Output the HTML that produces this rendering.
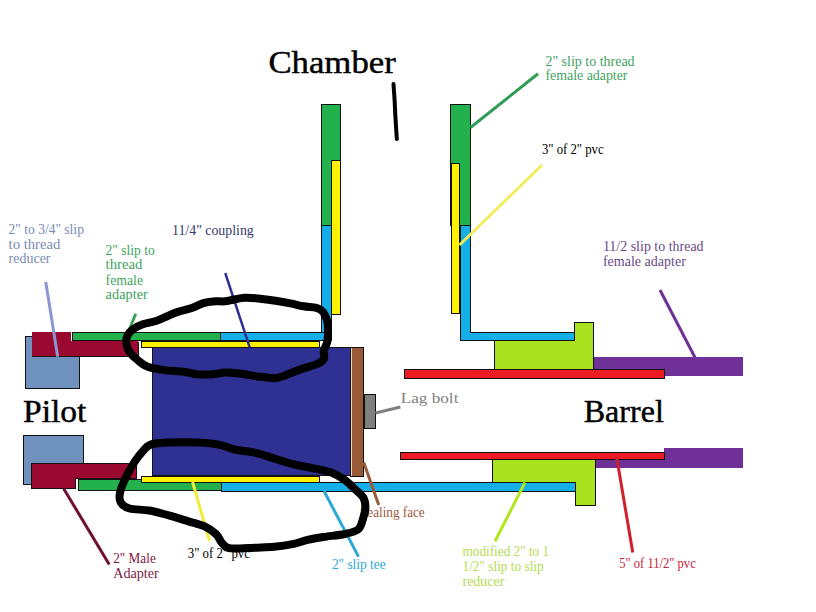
<!DOCTYPE html>
<html><head><meta charset="utf-8">
<style>
html,body{margin:0;padding:0;background:#fff;width:816px;height:612px;overflow:hidden}
svg{display:block}
text{font-family:"Liberation Serif",serif}
</style></head><body>
<svg width="816" height="612" viewBox="0 0 816 612">
<rect width="816" height="612" fill="#fff"/>
<g stroke="#111" stroke-width="1" shape-rendering="crispEdges">
<!-- left chamber pipe -->
<rect x="321.5" y="104.5" width="18.5" height="121" fill="#22b14c"/>
<rect x="321.5" y="225.5" width="9.5" height="115" fill="#14aee8"/>
<rect x="220.5" y="332.5" width="110.5" height="7.5" fill="#14aee8"/>
<rect x="331.5" y="160.5" width="9" height="154" fill="#fff200"/>
<!-- right chamber pipe -->
<rect x="450.5" y="104.5" width="20" height="121" fill="#22b14c"/>
<rect x="451.5" y="163.5" width="8.3" height="149.5" fill="#fff200"/>
<rect x="460.5" y="225.5" width="10.3" height="114.7" fill="#14aee8" stroke="none"/>
<path d="M460.5,225.5 V340.2 H575.4 V332.3 H470.8 V225.5" fill="none"/>
<rect x="470.8" y="332.3" width="104.6" height="7.9" fill="#14aee8" stroke="none"/>
<path d="M460.5,225.5 H470.8 V332.3 H575.4 V340.2 H460.5 Z" fill="#14aee8"/>
<!-- upper left pilot -->
<rect x="25.2" y="336.2" width="54.5" height="52.3" fill="#7092be"/>
<rect x="31.7" y="331.9" width="106.7" height="24.3" fill="#9a0a30" stroke="none"/>
<path d="M31.7,356.2 H138.4 V341.5" fill="none"/>
<rect x="70.5" y="332" width="2.5" height="9" fill="#fff" stroke="none"/>
<rect x="72.5" y="332.2" width="148" height="8" fill="#22b14c"/>
<rect x="141.4" y="341.2" width="178" height="6" fill="#fff200"/>
<!-- block -->
<rect x="152.3" y="347.3" width="198.2" height="128.3" fill="#2e3192"/>
<rect x="350.5" y="347.5" width="13" height="128.5" fill="#9a5a38"/>
<rect x="351" y="348" width="1.3" height="127.5" fill="#e8dcb0" stroke="none"/>
<rect x="364" y="394.3" width="11.7" height="34.2" fill="#7f7f7f"/>
<!-- lower left pilot -->
<rect x="23.5" y="435.5" width="60.3" height="49" fill="#7092be"/>
<path d="M31.7,463.4 H136.4 V478.3 H75.7 V488.3 H31.7 Z" fill="#9a0a30"/>
<rect x="75.7" y="478.8" width="3" height="10.5" fill="#fff" stroke="none"/>
<rect x="78.5" y="479.6" width="142.5" height="10.4" fill="#22b14c"/>
<rect x="221.2" y="482.5" width="354.2" height="9" fill="#14aee8"/>
<rect x="141" y="476" width="178.2" height="6.2" fill="#fff200"/>
<!-- upper barrel -->
<path d="M494.6,340.4 H574.4 V322.3 H593.8 V369.4 H494.6 Z" fill="#aae11e"/>
<rect x="593.8" y="357.3" width="149" height="19" fill="#6f3198" stroke="none"/>
<rect x="404.3" y="369.6" width="259.7" height="9" fill="#ed1c24"/>
<!-- lower barrel -->
<rect x="664" y="448" width="79" height="10.5" fill="#6f3198" stroke="none"/>
<rect x="596" y="458.2" width="147" height="10" fill="#6f3198" stroke="none"/>
<rect x="400.3" y="452.5" width="263.7" height="7" fill="#ed1c24"/>
<path d="M492.5,459.5 H595.8 V505 H575.3 V482.5 H492.5 Z" fill="#aae11e"/>
</g>

<g stroke-width="3" stroke-linecap="butt" fill="none">
<path d="M393.5,84 L394.6,100 L395.3,115 L396.8,139" stroke="#000" stroke-width="4" stroke-linecap="round" stroke-linejoin="round"/>
<line x1="470.5" y1="127.5" x2="538" y2="73.75" stroke="#2f9c55"/>
<line x1="542" y1="165" x2="459.5" y2="245" stroke="#f2ec5a"/>
<line x1="660" y1="290" x2="695" y2="357.5" stroke="#6f3198"/>
<line x1="375.5" y1="413" x2="400.4" y2="407" stroke="#7f7f7f"/>
<line x1="45.75" y1="282" x2="57.7" y2="356.7" stroke="#8c96d0"/>
<line x1="135.75" y1="313.75" x2="128.75" y2="331" stroke="#3aa35a"/>
<line x1="225.25" y1="273" x2="249.7" y2="347.3" stroke="#2e3192" stroke-width="2.5"/>
<line x1="63.75" y1="488.75" x2="109.25" y2="564.5" stroke="#6e1030"/>
<line x1="192.6" y1="482" x2="209.5" y2="541" stroke="#f2ec3a"/>
<line x1="324" y1="491" x2="358.5" y2="556.6" stroke="#2aa9d9"/>
<line x1="363.75" y1="462.5" x2="378.75" y2="505" stroke="#9c5a3c"/>
<line x1="525" y1="482.5" x2="495" y2="541.25" stroke="#b5e61d"/>
<line x1="616.5" y1="456.25" x2="632.75" y2="552.5" stroke="#d0202e"/>
</g>

<g>
<text x="268.4" y="73.3" font-size="32.5" fill="#000" stroke="#000" stroke-width="0.45" textLength="127.4" lengthAdjust="spacingAndGlyphs">Chamber</text>
<text x="23.0" y="421.9" font-size="32.5" fill="#000" stroke="#000" stroke-width="0.45" textLength="63.4" lengthAdjust="spacingAndGlyphs">Pilot</text>
<text x="583.7" y="421.6" font-size="32.5" fill="#000" stroke="#000" stroke-width="0.45" textLength="80.1" lengthAdjust="spacingAndGlyphs">Barrel</text>
<text x="8.6" y="233.75" font-size="14" fill="#7a8cb4" textLength="75.3" lengthAdjust="spacingAndGlyphs">2&quot; to 3/4&quot; slip</text>
<text x="8.6" y="248.7" font-size="14" fill="#7a8cb4" textLength="51.8" lengthAdjust="spacingAndGlyphs">to thread</text>
<text x="8.6" y="263.4" font-size="14" fill="#7a8cb4" textLength="41.9" lengthAdjust="spacingAndGlyphs">reducer</text>
<text x="105.6" y="254.9" font-size="14" fill="#3ea45e" textLength="49.1" lengthAdjust="spacingAndGlyphs">2&quot; slip to</text>
<text x="105.6" y="269.4" font-size="14" fill="#3ea45e" textLength="36.9" lengthAdjust="spacingAndGlyphs">thread</text>
<text x="105.6" y="284.6" font-size="14" fill="#3ea45e" textLength="37.4" lengthAdjust="spacingAndGlyphs">female</text>
<text x="105.6" y="298.9" font-size="14" fill="#3ea45e" textLength="42.2" lengthAdjust="spacingAndGlyphs">adapter</text>
<text x="172.0" y="234.8" font-size="14" fill="#353a70" textLength="81.8" lengthAdjust="spacingAndGlyphs">11/4&quot; coupling</text>
<text x="545.4" y="65.7" font-size="14" fill="#3ea45e" textLength="89.2" lengthAdjust="spacingAndGlyphs">2&quot; slip to thread</text>
<text x="545.4" y="80.4" font-size="14" fill="#3ea45e" textLength="82.1" lengthAdjust="spacingAndGlyphs">female adapter</text>
<text x="541.9" y="154.2" font-size="14" fill="#000" textLength="61.7" lengthAdjust="spacingAndGlyphs">3&quot; of 2&quot; pvc</text>
<text x="602.9" y="251.4" font-size="14" fill="#6a4a8a" textLength="100.7" lengthAdjust="spacingAndGlyphs">11/2 slip to thread</text>
<text x="602.9" y="266.1" font-size="14" fill="#6a4a8a" textLength="83.0" lengthAdjust="spacingAndGlyphs">female adapter</text>
<text x="400.8" y="402.6" font-size="15.4" fill="#7f7f7f" textLength="57.6" lengthAdjust="spacingAndGlyphs">Lag bolt</text>
<text x="360" y="517.4" font-size="14" fill="#9c5a3c" textLength="64.7" lengthAdjust="spacingAndGlyphs">Sealing face</text>
<text x="331.9" y="569.1" font-size="14" fill="#2aa9d9" textLength="53.8" lengthAdjust="spacingAndGlyphs">2&quot; slip tee</text>
<text x="462.5" y="556.2" font-size="14" fill="#b4dc50" textLength="86.6" lengthAdjust="spacingAndGlyphs">modified 2&quot; to 1</text>
<text x="462.5" y="571.2" font-size="14" fill="#b4dc50" textLength="81.2" lengthAdjust="spacingAndGlyphs">1/2&quot; slip to slip</text>
<text x="462.5" y="586.3" font-size="14" fill="#b4dc50" textLength="41.8" lengthAdjust="spacingAndGlyphs">reducer</text>
<text x="619.25" y="568" font-size="14" fill="#c8203a" textLength="76.5" lengthAdjust="spacingAndGlyphs">5&quot; of 11/2&quot; pvc</text>
<text x="113.25" y="562.5" font-size="14" fill="#7b1a3f" textLength="42.5" lengthAdjust="spacingAndGlyphs">2&quot; Male</text>
<text x="113.25" y="577.5" font-size="14" fill="#7b1a3f" textLength="45.5" lengthAdjust="spacingAndGlyphs">Adapter</text>
<text x="187.75" y="558" font-size="14" fill="#000" textLength="62.2" lengthAdjust="spacingAndGlyphs">3&quot; of 2&quot; pvc</text>
</g>
<g stroke="#000" stroke-width="8" fill="none" stroke-linejoin="round" stroke-linecap="round">
<path d="M225.0,301.3 C228.4,301.0 229.9,300.3 233.2,299.7 C236.5,299.1 240.5,298.0 244.6,297.8 C248.7,297.6 252.8,297.9 257.7,298.4 C262.6,298.8 268.6,299.7 274.0,300.5 C279.4,301.3 285.5,302.3 290.4,303.3 C295.3,304.3 299.1,305.5 303.5,306.3 C307.9,307.1 313.2,306.9 316.5,307.9 C319.8,308.8 321.3,309.8 323.1,312.0 C324.9,314.2 326.4,317.9 327.2,321.0 C328.0,324.1 328.0,327.3 328.0,330.8 C328.0,334.3 327.9,338.9 327.2,342.2 C326.5,345.5 324.4,347.7 323.9,350.4 C323.3,353.1 324.8,356.4 323.9,358.6 C322.9,360.8 321.6,361.9 318.2,363.5 C314.8,365.1 308.1,366.8 303.5,368.4 C298.9,370.0 293.9,371.9 290.4,373.3 C286.8,374.7 284.9,375.7 282.2,376.5 C279.5,377.3 278.1,378.2 274.0,378.2 C269.9,378.2 263.1,377.2 257.7,376.5 C252.2,375.8 246.8,374.5 241.3,373.8 C235.9,373.1 229.7,372.4 225.0,372.5 C220.3,372.6 217.8,373.9 213.1,374.2 C208.4,374.5 201.6,374.6 196.7,374.2 C191.8,373.8 189.1,372.4 183.7,371.7 C178.2,371.0 170.0,370.9 164.0,370.1 C158.0,369.3 152.0,368.4 147.7,366.8 C143.3,365.2 140.9,362.8 137.9,360.3 C134.9,357.9 131.6,354.8 129.7,352.1 C127.8,349.4 126.8,346.7 126.4,344.0 C126.0,341.3 126.2,338.3 127.3,335.8 C128.4,333.3 130.4,331.1 133.0,329.2 C135.6,327.3 139.0,325.7 142.8,324.3 C146.6,322.9 151.8,322.4 155.9,321.0 C160.0,319.6 163.8,317.7 167.3,316.2 C170.8,314.7 173.0,313.5 177.1,312.1 C181.2,310.7 187.4,309.5 191.8,308.0 C196.2,306.5 199.8,304.2 203.3,303.1 C206.8,302.0 209.4,301.7 213.0,301.4 C216.6,301.1 221.6,301.6 225.0,301.3 Z"/>
<path d="M235.0,449.7 C240.8,451.0 248.1,451.1 254.6,452.6 C261.1,454.1 267.7,456.5 274.2,458.5 C280.7,460.5 287.3,462.8 293.8,464.4 C300.3,466.0 306.9,466.8 313.4,468.3 C319.9,469.8 327.8,471.2 333.0,473.2 C338.2,475.2 341.2,477.5 344.8,480.1 C348.4,482.7 351.5,486.0 354.6,488.9 C357.7,491.8 361.6,494.6 363.4,497.7 C365.2,500.8 365.4,504.2 365.4,507.5 C365.4,510.8 364.5,513.8 363.4,517.4 C362.2,521.0 361.6,526.3 358.5,529.1 C355.4,531.9 350.7,532.7 344.8,534.0 C338.9,535.3 329.4,536.0 323.2,537.0 C317.0,538.0 312.4,538.8 307.5,539.9 C302.6,541.0 299.4,542.6 293.8,543.8 C288.2,544.9 280.7,546.1 274.2,546.8 C267.7,547.4 260.3,547.4 254.6,547.7 C248.9,548.0 244.5,548.5 240.0,548.5 C235.5,548.5 230.6,548.7 227.6,547.7 C224.6,546.8 223.8,545.1 221.8,542.8 C219.9,540.5 218.9,536.8 215.9,534.0 C212.9,531.2 208.7,528.3 204.1,526.2 C199.5,524.1 194.3,523.1 188.4,521.3 C182.5,519.5 175.3,517.2 168.8,515.4 C162.3,513.6 155.7,511.6 149.2,510.5 C142.7,509.4 134.3,509.8 129.6,508.5 C124.9,507.2 122.4,505.1 120.8,502.6 C119.2,500.2 119.3,497.2 119.8,493.8 C120.3,490.4 122.1,486.0 123.7,482.1 C125.3,478.2 127.6,473.9 129.6,470.3 C131.6,466.7 133.2,463.8 135.5,460.5 C137.8,457.2 140.7,453.4 143.3,450.7 C145.9,448.0 146.9,445.8 151.2,444.4 C155.4,443.0 161.0,442.8 168.8,442.5 C176.6,442.2 189.7,442.1 198.2,442.5 C206.7,442.9 213.7,443.6 219.8,444.8 C225.9,446.0 229.2,448.4 235.0,449.7 Z"/>
</g>

</svg>
</body></html>
